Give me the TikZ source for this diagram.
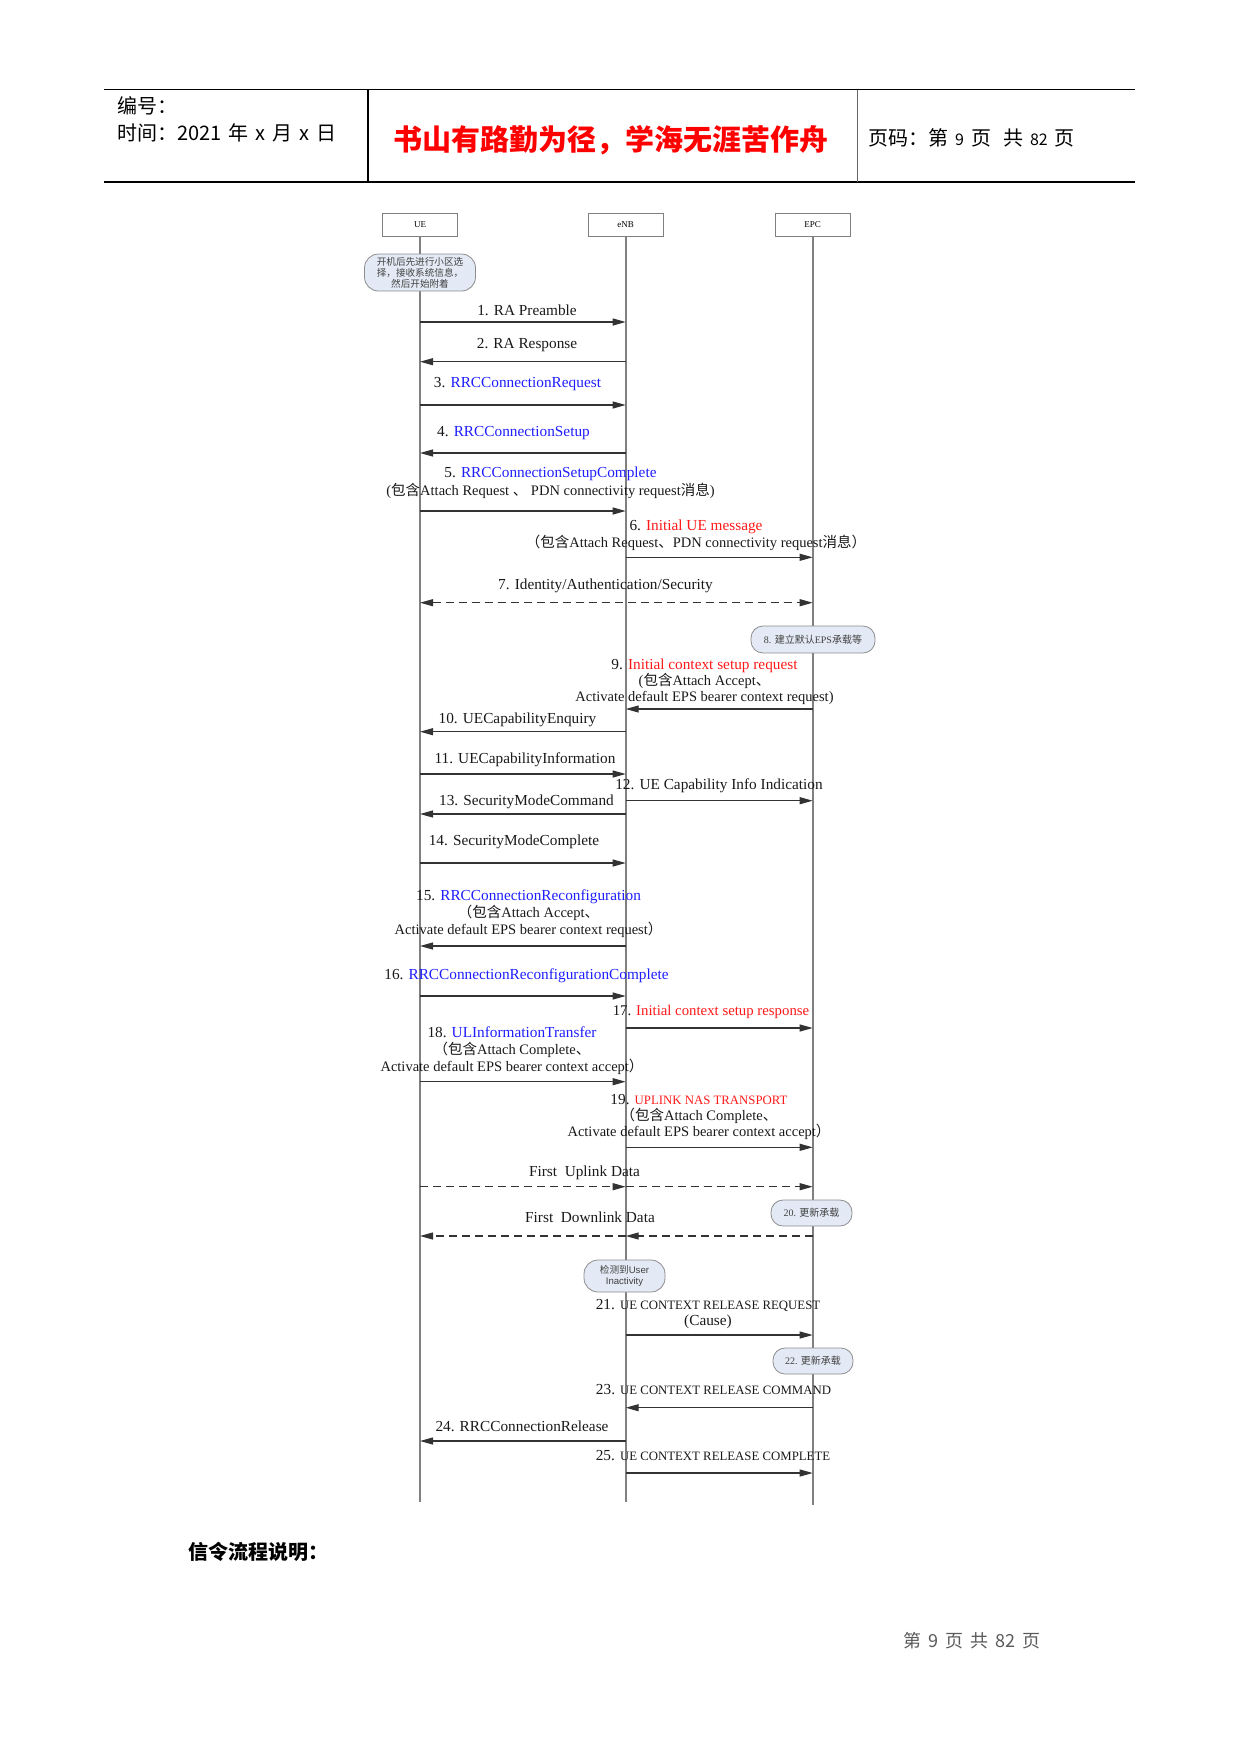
\documentclass[tikz,border=0pt]{standalone}
\usepackage{fontspec}
\setmainfont{Liberation Serif}
\newfontfamily\zhfont{Noto Sans CJK SC}
\newfontfamily\arialfont{Liberation Sans}
\usetikzlibrary{arrows.meta}
\newcommand\zhtxt[1]{{\zhfont #1}}
\newcommand\capsz[1]{{\fontsize{12.8}{15}\selectfont #1}}
\newcommand\gapx{\hspace{7pt}}
\definecolor{msgblue}{RGB}{30,30,255}
\definecolor{msgred}{RGB}{255,25,25}
\definecolor{lifegray}{RGB}{128,128,128}
\definecolor{notefill}{RGB}{228,234,245}
\definecolor{noteline}{RGB}{140,140,140}
\definecolor{footgray}{RGB}{90,90,90}
\begin{document}
\begin{tikzpicture}[x=1pt,y=-1pt,
  every node/.style={inner sep=0pt},
  lbl/.style={font=\fontsize{15.3}{17}\selectfont, align=center, text=black!90},
  lbox/.style={draw=lifegray, line width=0.9pt, fill=white, minimum width=75pt, minimum height=22.5pt, font=\fontsize{9}{10}\selectfont},
  life/.style={draw=lifegray, line width=1.6pt},
  msg/.style={draw=black!80, line width=1.1pt, -{Triangle[length=13pt,width=7pt]}},
  dmsg/.style={msg, dash pattern=on 8pt off 5pt},
  dboth/.style={draw=black!80, line width=1.1pt, {Triangle[length=13pt,width=7pt]}-{Triangle[length=13pt,width=7pt]}, dash pattern=on 8pt off 5pt},
  note/.style={draw=noteline, line width=0.8pt, fill=notefill, rounded corners=12pt, align=center, font=\fontsize{10}{11}\selectfont, text=black!75},
  hdr/.style={font=\zhfont\fontsize{20}{22}\selectfont, anchor=west}
]
\useasboundingbox (0,0) rectangle (1241,1754);

% ---------- header ----------
\draw[line width=1.3pt] (104,89.5) -- (1135,89.5);
\draw[line width=1.3pt] (104,182) -- (1135,182);
\draw[line width=1.4pt] (368,89.5) -- (368,182);
\draw[line width=0.8pt, black!60] (857,89.5) -- (857,182);
\node[hdr] (hno) at (117,106) {编号：};
\node[hdr] (htime) at (117,133) {时间：2021\gapx 年\gapx x\gapx 月\gapx x\gapx 日};
\node[font=\zhfont\bfseries\fontsize{29}{32}\selectfont, text=red] (slogan) at (611,140) {书山有路勤为径，学海无涯苦作舟};
\node[hdr] (hpage) at (868,138) {页码：第\gapx{\fontsize{16}{18}\selectfont 9}\gapx 页\hspace{12pt}共\gapx{\fontsize{16}{18}\selectfont 82}\gapx 页};

% ---------- lifelines ----------
\coordinate (UEend) at (420,1501.5);
\coordinate (eNBend) at (625.7,1501.5);
\coordinate (EPCend) at (812.7,1505);
\node[lbox] (UE) at (420,225) {UE};
\node[lbox] (eNB) at (625.7,225) {eNB};
\node[lbox] (EPC) at (812.7,225) {EPC};
\draw[life] (UE.south) -- (UEend);
\draw[life] (eNB.south) -- (eNBend);
\draw[life] (EPC.south) -- (EPCend);

% ---------- notes ----------
\node[note, minimum width=111pt, minimum height=37pt, rounded corners=14pt, font=\zhfont\fontsize{9.6}{11}\selectfont] (n0) at (420,272.5) {开机后先进行小区选\\择，接收系统信息，\\然后开始附着};
\node[note, minimum width=124pt, minimum height=27pt] (n8) at (813,639.5) {8. \zhtxt{建立默认}EPS\zhtxt{承载等}};
\node[note, minimum width=81pt, minimum height=26pt] (n20) at (811.5,1213) {20. \zhtxt{更新承载}};
\node[note, minimum width=81pt, minimum height=32pt, rounded corners=14pt, font=\fontsize{9.6}{11}\selectfont] (nin) at (624.5,1276) {\zhtxt{检测到}{\arialfont User}\\{\arialfont Inactivity}};
\node[note, minimum width=80pt, minimum height=26pt] (n22) at (813,1361) {22. \zhtxt{更新承载}};

% ---------- labels ----------
\node[lbl] (m1) at (527,310) {1. RA Preamble};
\node[lbl] (m2) at (527,345) {2. RA Response};
\node[lbl] (m3) at (517.5,384) {3. \textcolor{msgblue}{RRCConnectionRequest}};
\node[lbl] (m4) at (513.5,432.7) {4. \textcolor{msgblue}{RRCConnectionSetup}};
\node[lbl, font=\fontsize{15.3}{18}\selectfont] (m5) at (550.5,483) {5. \textcolor{msgblue}{RRCConnectionSetupComplete}\\{\fontsize{14.5}{17}\selectfont(\zhtxt{包含}Attach Request \zhtxt{、} PDN connectivity request\zhtxt{消息})}};
\node[lbl] (m6) at (696,535.3) {6. \textcolor{msgred}{Initial UE message}\\{\fontsize{14.5}{17}\selectfont\zhtxt{（包含}Attach Request\zhtxt{、}PDN connectivity request\zhtxt{消息）}}};
\node[lbl] (m7) at (605.5,586) {7. Identity/Authentication/Security};
\node[lbl, font=\fontsize{15.3}{16}\selectfont] (m9) at (704.5,681.7) {9. \textcolor{msgred}{Initial context setup request}\\{\fontsize{14.5}{16}\selectfont(\zhtxt{包含}Attach Accept\zhtxt{、}}\\{\fontsize{14.5}{16}\selectfont Activate default EPS bearer context request)}};
\node[lbl] (m10) at (517.5,720) {10. UECapabilityEnquiry};
\node[lbl] (m11) at (525,760) {11. UECapabilityInformation};
\node[lbl] (m12) at (719,786) {12. UE Capability Info Indication};
\node[lbl] (m13) at (526.5,801.7) {13. SecurityModeCommand};
\node[lbl] (m14) at (514,841.7) {14. SecurityModeComplete};
\node[lbl] (m15) at (528.5,914) {15. \textcolor{msgblue}{RRCConnectionReconfiguration}\\{\fontsize{14.5}{17}\selectfont\zhtxt{（包含}Attach Accept\zhtxt{、}}\\{\fontsize{14.5}{17}\selectfont Activate default EPS bearer context request\zhtxt{）}}};
\node[lbl] (m16) at (526.5,976) {16. \textcolor{msgblue}{RRCConnectionReconfigurationComplete}};
\node[lbl, font=\fontsize{14.8}{17}\selectfont] (m17) at (711,1011.7) {17. \textcolor{msgred}{Initial context setup response}};
\node[lbl] (m18) at (512,1051) {18. \textcolor{msgblue}{ULInformationTransfer}\\{\fontsize{14.5}{17}\selectfont\zhtxt{（包含}Attach Complete\zhtxt{、}}\\{\fontsize{14.5}{17}\selectfont Activate default EPS bearer context accept\zhtxt{）}}};
\node[lbl, font=\fontsize{15.3}{16.3}\selectfont] (m19) at (699,1117) {19. \textcolor{msgred}{\capsz{UPLINK NAS TRANSPORT}}\\{\fontsize{14.5}{16.3}\selectfont\zhtxt{（包含}Attach Complete\zhtxt{、}}\\{\fontsize{14.5}{16.3}\selectfont Activate default EPS bearer context accept\zhtxt{）}}};
\node[lbl] (mup) at (584.5,1173) {First~ Uplink Data};
\node[lbl] (mdown) at (590,1217) {First~ Downlink Data};
\node[lbl, font=\fontsize{15.3}{15.7}\selectfont] (m21) at (708,1314) {21. \capsz{UE CONTEXT RELEASE REQUEST}\\(Cause)};
\node[lbl] (m23) at (713.5,1390) {23. \capsz{UE CONTEXT RELEASE COMMAND}};
\node[lbl] (m24) at (522,1426.7) {24. RRCConnectionRelease};
\node[lbl] (m25) at (713,1456) {25. \capsz{UE CONTEXT RELEASE COMPLETE}};

% ---------- messages ----------
\draw[msg] (UE |- 0,322) -- (eNB |- 0,322);
\draw[msg] (eNB |- 0,361.7) -- (UE |- 0,361.7);
\draw[msg] (UE |- 0,405) -- (eNB |- 0,405);
\draw[msg] (eNB |- 0,453) -- (UE |- 0,453);
\draw[msg] (UE |- 0,511) -- (eNB |- 0,511);
\draw[msg] (eNB |- 0,557.3) -- (EPC |- 0,557.3);
\draw[dboth] (UE |- 0,602.7) -- (EPC |- 0,602.7);
\draw[msg] (EPC |- 0,709) -- (eNB |- 0,709);
\draw[msg] (eNB |- 0,731.7) -- (UE |- 0,731.7);
\draw[msg] (UE |- 0,774) -- (eNB |- 0,774);
\draw[msg] (eNB |- 0,800.7) -- (EPC |- 0,800.7);
\draw[msg] (eNB |- 0,814) -- (UE |- 0,814);
\draw[msg] (UE |- 0,863) -- (eNB |- 0,863);
\draw[msg] (eNB |- 0,946) -- (UE |- 0,946);
\draw[msg] (UE |- 0,996) -- (eNB |- 0,996);
\draw[msg] (eNB |- 0,1028) -- (EPC |- 0,1028);
\draw[msg] (UE |- 0,1081.7) -- (eNB |- 0,1081.7);
\draw[msg] (eNB |- 0,1147.3) -- (EPC |- 0,1147.3);
\draw[dmsg] (UE |- 0,1186.7) -- (eNB |- 0,1186.7);
\draw[dmsg] (eNB |- 0,1186.7) -- (EPC |- 0,1186.7);
\draw[dmsg] (EPC |- 0,1236) -- (eNB |- 0,1236);
\draw[dmsg] (eNB |- 0,1236) -- (UE |- 0,1236);
\draw[msg] (eNB |- 0,1335) -- (EPC |- 0,1335);
\draw[msg] (EPC |- 0,1407.7) -- (eNB |- 0,1407.7);
\draw[msg] (eNB |- 0,1441) -- (UE |- 0,1441);
\draw[msg] (eNB |- 0,1473) -- (EPC |- 0,1473);

% ---------- body / footer ----------
\node[font=\zhfont\bfseries\fontsize{20}{22}\selectfont, anchor=west] (title) at (188,1552) {信令流程说明：};
\node[font=\zhfont\fontsize{18}{20}\selectfont, text=footgray, anchor=west] (foot) at (903,1641) {第\gapx 9\gapx 页\gapx 共\gapx 82\gapx 页};
\end{tikzpicture}
\end{document}
